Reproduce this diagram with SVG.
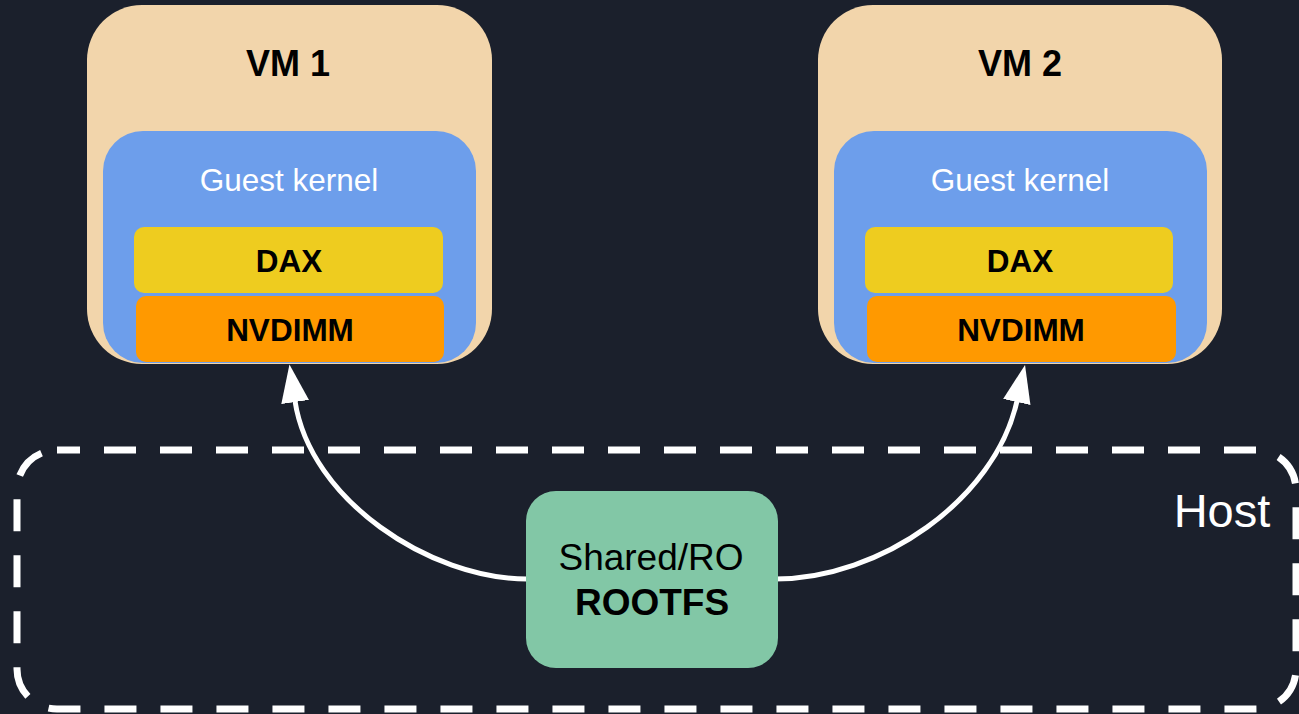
<svg xmlns="http://www.w3.org/2000/svg" width="1299" height="714" viewBox="0 0 1299 714">
<defs>
<style>
.vm{fill:#F2D5AB;}
.gk{fill:#6D9EEB;}
.dax{fill:#EECC1F;}
.nv{fill:#FF9900;}
.t{font-family:"Liberation Sans",Arial,sans-serif;text-anchor:middle;}
.b{font-weight:bold;fill:#000;}
.w{fill:#fff;}
.conn{fill:none;stroke:#fff;stroke-width:5;}
</style>
<marker id="ah" markerUnits="userSpaceOnUse" markerWidth="38" markerHeight="28" viewBox="0 0 38 28" refX="1" refY="14" orient="auto">
<path d="M0,0 L38,14 L0,28 Z" fill="#fff"/>
</marker>
</defs>
<rect width="1299" height="714" fill="#1B202C"/>
<g id="host">
<rect x="17" y="450" width="1279" height="259" rx="40" fill="none" stroke="#fff" stroke-width="7" stroke-dasharray="32 24" stroke-dashoffset="9"/>
<text class="t w" x="1222" y="527" font-size="47">Host</text>
</g>
<g id="vm1">
<rect class="vm" x="87" y="5" width="405" height="359" rx="55"/>
<text class="t b" x="288" y="76" font-size="36">VM 1</text>
<rect class="gk" x="103" y="131" width="373" height="232" rx="40"/>
<text class="t w" x="289" y="191" font-size="31.5">Guest kernel</text>
<rect class="dax" x="134" y="227" width="309" height="66" rx="10"/>
<text class="t b" x="289" y="272" font-size="31.5">DAX</text>
<rect class="nv" x="136" y="296" width="308" height="66" rx="10"/>
<text class="t b" x="290" y="341" font-size="31.5">NVDIMM</text>
</g>
<g id="vm2">
<rect class="vm" x="818" y="5" width="404" height="359" rx="55"/>
<text class="t b" x="1020" y="76" font-size="36">VM 2</text>
<rect class="gk" x="834" y="131" width="373" height="232" rx="40"/>
<text class="t w" x="1020" y="191" font-size="31.5">Guest kernel</text>
<rect class="dax" x="865" y="227" width="308" height="66" rx="10"/>
<text class="t b" x="1020" y="272" font-size="31.5">DAX</text>
<rect class="nv" x="867" y="296" width="309" height="66" rx="10"/>
<text class="t b" x="1021" y="341" font-size="31.5">NVDIMM</text>
</g>
<g id="connectors">
<path class="conn" d="M527,579 C430,579 310,500 295,401" marker-end="url(#ah)"/>
<path class="conn" d="M775,579 C880,579 995,500 1017,401" marker-end="url(#ah)"/>
</g>
<g id="rootfs">
<rect x="526" y="491" width="252" height="177" rx="30" fill="#82C7A6"/>
<text class="t" x="651" y="570" font-size="37" fill="#000">Shared/RO</text>
<text class="t b" x="652" y="615" font-size="37">ROOTFS</text>
</g>
</svg>
